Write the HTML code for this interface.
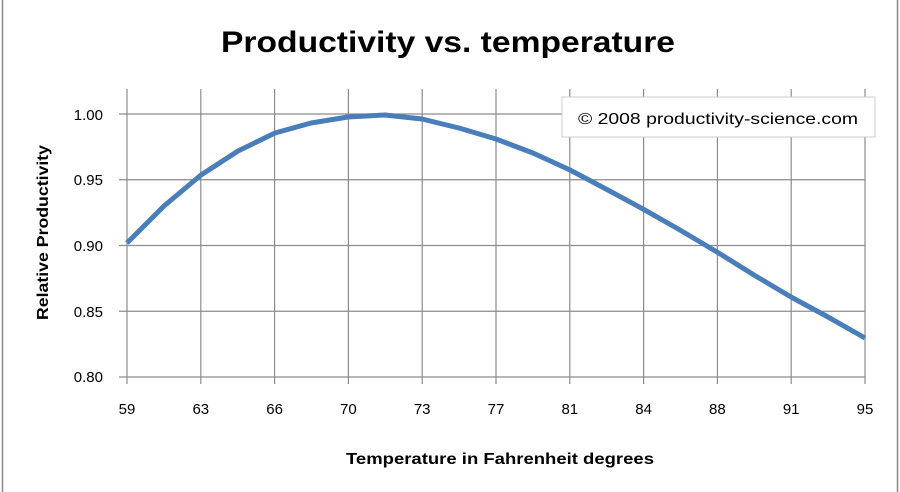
<!DOCTYPE html>
<html><head><meta charset="utf-8"><style>
html,body{margin:0;padding:0;background:#fff;}
svg{display:block;font-family:"Liberation Sans",sans-serif;}
</style></head><body>
<svg width="900" height="492" viewBox="0 0 900 492">
<rect x="0" y="0" width="900" height="492" fill="#fff"/>
<line x1="2.5" y1="0" x2="2.5" y2="492" stroke="#888" stroke-width="1.5"/>
<line x1="897.5" y1="0" x2="897.5" y2="492" stroke="#888" stroke-width="1.5"/>
<text x="221" y="52" font-size="30" font-weight="bold" fill="#000" textLength="454" lengthAdjust="spacingAndGlyphs">Productivity vs. temperature</text>
<g stroke="#8c8c8c" stroke-width="1.2">
<line x1="119" y1="114" x2="865" y2="114"/>
<line x1="119" y1="179.75" x2="865" y2="179.75"/>
<line x1="119" y1="245.5" x2="865" y2="245.5"/>
<line x1="119" y1="311.25" x2="865" y2="311.25"/>
<line x1="119" y1="377" x2="865" y2="377"/>
<line x1="127" y1="89" x2="127" y2="384"/>
<line x1="200.8" y1="89" x2="200.8" y2="384"/>
<line x1="274.6" y1="89" x2="274.6" y2="384"/>
<line x1="348.4" y1="89" x2="348.4" y2="384"/>
<line x1="422.2" y1="89" x2="422.2" y2="384"/>
<line x1="496" y1="89" x2="496" y2="384"/>
<line x1="569.8" y1="89" x2="569.8" y2="384"/>
<line x1="643.6" y1="89" x2="643.6" y2="384"/>
<line x1="717.4" y1="89" x2="717.4" y2="384"/>
<line x1="791.2" y1="89" x2="791.2" y2="384"/>
<line x1="865" y1="89" x2="865" y2="384"/>
</g>
<rect x="562" y="97" width="313" height="40" fill="#fff" stroke="#ccc" stroke-width="1"/>
<text x="578" y="124" font-size="16" fill="#000" textLength="280" lengthAdjust="spacingAndGlyphs">© 2008  productivity-science.com</text>
<polyline fill="none" stroke="#4a7ebb" stroke-width="5" stroke-linejoin="round" points="127,243 164,206 201,175 238,151 275,133 311,123 348,117 385,115 422,119 459,128 496,139 533,153 570,170 606,189 643,209 680,230 717,252 754,275 791,297 828,317 865,338"/>
<g font-size="15" fill="#000" text-anchor="end">
<text x="103" y="120">1.00</text>
<text x="103" y="185">0.95</text>
<text x="103" y="251">0.90</text>
<text x="103" y="317">0.85</text>
<text x="103" y="382">0.80</text>
</g>
<g font-size="15" fill="#000" text-anchor="middle">
<text x="127" y="414">59</text>
<text x="200.8" y="414">63</text>
<text x="274.6" y="414">66</text>
<text x="348.4" y="414">70</text>
<text x="422.2" y="414">73</text>
<text x="496" y="414">77</text>
<text x="569.8" y="414">81</text>
<text x="643.6" y="414">84</text>
<text x="717.4" y="414">88</text>
<text x="791.2" y="414">91</text>
<text x="865" y="414">95</text>
</g>
<text x="346" y="464" font-size="16" font-weight="bold" fill="#000" textLength="308" lengthAdjust="spacingAndGlyphs">Temperature  in Fahrenheit degrees</text>
<text transform="translate(48,320) rotate(-90)" font-size="16" font-weight="bold" fill="#000" textLength="175" lengthAdjust="spacingAndGlyphs">Relative Productivity</text>
</svg>
</body></html>
